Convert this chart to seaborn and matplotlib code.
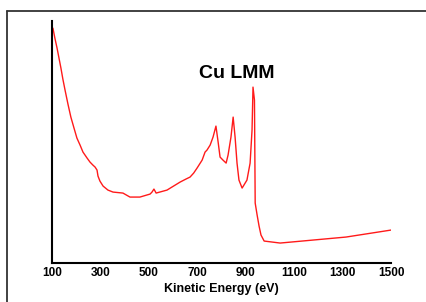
import numpy as np
import pandas as pd
import seaborn as sns
import matplotlib.pyplot as plt
from matplotlib.lines import Line2D

# -------------------------------
# 1. Spectrum data
# -------------------------------
energy = [104, 112, 121, 129, 137, 145, 154, 166, 178, 191, 203, 216, 228, 245,
          257, 269, 278, 286, 290, 298, 311, 331, 352, 393, 422, 463,
          505, 513, 521, 530, 575, 629, 653, 670, 685, 699, 720, 732, 740, 753,
          765, 777, 786, 794, 806, 819, 827, 839, 848, 856, 864, 872, 885, 905,
          918, 926, 930, 936, 939, 947, 955, 963, 976, 1042, 1178, 1314, 1500]
intensity = [235, 225, 215, 205, 195, 184, 173, 159, 146, 135, 125, 118, 111, 105,
             101, 98, 96, 93, 87, 82, 77, 73, 71, 70, 66, 66,
             69, 71, 74, 70, 73, 81, 84, 86, 90, 95, 103, 111, 113, 118,
             126, 137, 121, 106, 103, 100, 108, 126, 146, 126, 100, 83, 75, 83,
             100, 133, 176, 163, 60, 48, 37, 28, 22, 20, 23, 26, 33]
x_ticks = [100, 300, 500, 700, 900, 1100, 1300, 1500]

df = pd.DataFrame({"energy": energy, "intensity": intensity})

# -------------------------------
# 2. Plot
# -------------------------------
sns.set_style("white")
plt.rcParams["font.family"] = ["Liberation Sans", "DejaVu Sans"]
plt.rcParams["text.color"] = "black"

fig = plt.figure(figsize=(4.26, 3.02), dpi=100)
ax = fig.add_axes([0.122, 0.129, 0.796, 0.801])

sns.lineplot(data=df, x="energy", y="intensity", color="#ff1a1a",
             linewidth=1.0, ax=ax)

ax.set_xlim(100, 1500)
ax.set_ylim(0, 242)
ax.set_xticks(x_ticks)
ax.set_xticklabels([str(t) for t in x_ticks], fontweight="bold", fontsize=8.5,
                   color="black")
ax.set_yticks([])
ax.set_ylabel("")
ax.set_xlabel("Kinetic Energy (eV)", fontweight="bold", fontsize=9,
              labelpad=3, color="black")
ax.tick_params(axis="x", direction="in", length=4, width=1, pad=3, colors="black")

for side in ["top", "right"]:
    ax.spines[side].set_visible(False)
for side in ["left", "bottom"]:
    ax.spines[side].set_color("black")
    ax.spines[side].set_linewidth(1.5)

ax.text(862, 190, "Cu LMM", fontsize=14, fontweight="bold",
        ha="center", va="center", color="black")

# outer frame (left and top edges only visible)
fig.add_artist(Line2D([0.0164, 0.0164], [0.0, 0.9636], color="#333333", linewidth=1.3))
fig.add_artist(Line2D([0.0164, 1.0], [0.9636, 0.9636], color="#333333", linewidth=1.3))

fig.savefig("out.png", dpi=100)
